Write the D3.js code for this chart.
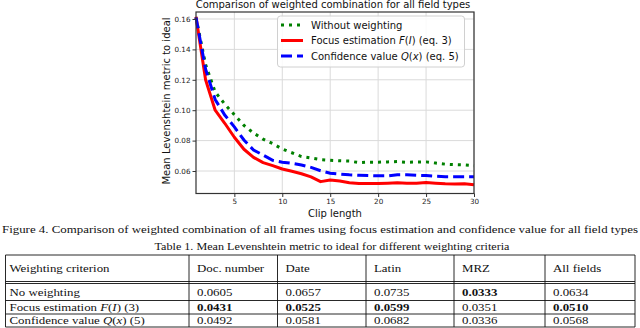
<!DOCTYPE html>
<html>
<head>
<meta charset="utf-8">
<script src="https://cdn.jsdelivr.net/npm/d3@7"></script>
<style>
    body { margin: 0; background: #fff; }
    svg { display: block; }
    .tick text { font-family: "DejaVu Sans", sans-serif; font-size: 7.2px; fill: #222; }
    .axis-label { font-family: "DejaVu Sans", sans-serif; font-size: 10px; fill: #111; }
    .serif { font-family: "Liberation Serif", "Times New Roman", serif; fill: #111; }
</style>
</head>
<body>
<script>
// Chart data
const clipLength = [1, 2, 3, 4, 5, 6, 7, 8, 9, 10, 11, 12, 13, 14, 15, 16, 17, 18, 19, 20, 21, 22, 23, 24, 25, 26, 27, 28, 29, 30];
const withoutWeighting = [0.161, 0.130, 0.112, 0.104, 0.097, 0.090, 0.085, 0.081, 0.078, 0.0745, 0.072, 0.0695, 0.0685, 0.0675, 0.067, 0.0667, 0.0665, 0.0655, 0.0658, 0.0658, 0.066, 0.0662, 0.0657, 0.066, 0.066, 0.0652, 0.0645, 0.0642, 0.064, 0.0635];
const focusEstimation = [0.1615, 0.120, 0.100, 0.0914, 0.0822, 0.0743, 0.069, 0.0655, 0.0635, 0.0613, 0.0598, 0.0582, 0.0561, 0.053, 0.0541, 0.0534, 0.0523, 0.0518, 0.0518, 0.0518, 0.052, 0.0523, 0.052, 0.052, 0.0525, 0.052, 0.0516, 0.0514, 0.0516, 0.0509];
const confidenceValue = [0.161, 0.127, 0.107, 0.0968, 0.089, 0.0804, 0.0738, 0.0705, 0.067, 0.0658, 0.0651, 0.064, 0.0624, 0.0602, 0.0585, 0.058, 0.0575, 0.0572, 0.057, 0.0568, 0.0568, 0.0575, 0.0575, 0.0572, 0.057, 0.0566, 0.0563, 0.0563, 0.0563, 0.0563];
const xTicks = [5, 10, 15, 20, 25, 30];
const yTicks = [0.06, 0.08, 0.10, 0.12, 0.14, 0.16];
const seriesNames = ["Without weighting", "Focus estimation $F$($I$) (eq. 3)", "Confidence value $Q$($x$) (eq. 5)"];

// Table data
const tableHeader = ["Weighting criterion", "Doc. number", "Date", "Latin", "MRZ", "All fields"];
const rowLabels = ["No weighting", "Focus estimation $F$($I$) (3)", "Confidence value $Q$($x$) (5)"];
const docNumber = [0.0605, 0.0431, 0.0492];
const dateField = [0.0657, 0.0525, 0.0581];
const latinField = [0.0735, 0.0599, 0.0682];
const mrzField = [0.0333, 0.0351, 0.0336];
const allFields = [0.0634, 0.0510, 0.0568];

const figureCaption = "Figure 4. Comparison of weighted combination of all frames using focus estimation and confidence value for all field types";
const tableCaption = "Table 1. Mean Levenshtein metric to ideal for different weighting criteria";

const svg = d3.select('body').append('svg')
    .attr('width', 640)
    .attr('height', 328);

svg.append('rect').attr('width', 640).attr('height', 328).attr('fill', '#fff');

// write "text with $math$ parts" as tspans, math parts in italic
function richText(sel, str) {
    str.split('$').forEach((part, i) => {
        if (!part) return;
        const t = sel.append('tspan').text(part);
        if (i % 2 === 1) t.attr('font-style', 'italic');
    });
    return sel;
}

// scale font size so the text spans a given width
function fitWidth(sel, width) {
    const size = parseFloat(sel.attr('font-size'));
    const w = sel.node().getComputedTextLength();
    sel.attr('font-size', size * width / w);
}

// ---------- chart ----------
const plot = { left: 196, right: 474, top: 12, bottom: 193.5 };

const x = d3.scaleLinear().domain([1, 30]).range([plot.left, plot.right]);
const y = d3.scaleLinear().domain([0.0452, 0.1646]).range([plot.bottom, plot.top]);

// grid
const grid = svg.append('g').attr('stroke', '#dadada').attr('stroke-width', 1);
grid.selectAll('.vg').data(xTicks).enter().append('line')
    .attr('x1', d => x(d)).attr('x2', d => x(d))
    .attr('y1', plot.top).attr('y2', plot.bottom);
grid.selectAll('.hg').data(yTicks).enter().append('line')
    .attr('x1', plot.left).attr('x2', plot.right)
    .attr('y1', d => y(d)).attr('y2', d => y(d));

// lines
const line = (vals) => d3.line().x((d, i) => x(clipLength[i])).y(d => y(d))(vals);

svg.append('path').attr('d', line(withoutWeighting))
    .attr('fill', 'none').attr('stroke', '#008000').attr('stroke-width', 3)
    .attr('stroke-dasharray', '3,5');
svg.append('path').attr('d', line(focusEstimation))
    .attr('fill', 'none').attr('stroke', '#ff0000').attr('stroke-width', 3)
    .attr('stroke-linejoin', 'round');
svg.append('path').attr('d', line(confidenceValue))
    .attr('fill', 'none').attr('stroke', '#0000ff').attr('stroke-width', 3)
    .attr('stroke-dasharray', '11,5');

// frame
svg.append('rect')
    .attr('x', plot.left).attr('y', plot.top)
    .attr('width', plot.right - plot.left).attr('height', plot.bottom - plot.top)
    .attr('fill', 'none').attr('stroke', '#333').attr('stroke-width', 1.2);

// axes
svg.append('g')
    .attr('transform', `translate(0,${plot.bottom})`)
    .call(d3.axisBottom(x).tickValues(xTicks).tickSize(3.5).tickPadding(2).tickFormat(d3.format('d')))
    .call(g => g.select('.domain').remove());

svg.append('g')
    .attr('transform', `translate(${plot.left},0)`)
    .call(d3.axisLeft(y).tickValues(yTicks).tickSize(3.5).tickPadding(2).tickFormat(d3.format('.2f')))
    .call(g => g.select('.domain').remove());

svg.selectAll('.tick line').attr('stroke', '#333');

// title and labels
const title = svg.append('text')
    .attr('class', 'axis-label')
    .attr('x', 333).attr('y', 7.5)
    .attr('text-anchor', 'middle')
    .attr('font-size', 10)
    .text('Comparison of weighted combination for all field types');
fitWidth(title, 283);

svg.append('text')
    .attr('class', 'axis-label')
    .attr('x', 335).attr('y', 217)
    .attr('text-anchor', 'middle')
    .text('Clip length');

svg.append('text')
    .attr('class', 'axis-label')
    .attr('transform', 'translate(170,101) rotate(-90)')
    .attr('text-anchor', 'middle')
    .text('Mean Levenshtein metric to ideal');

// legend
const legend = svg.append('g');
legend.append('rect')
    .attr('x', 277.5).attr('y', 16).attr('width', 187).attr('height', 51)
    .attr('rx', 3)
    .attr('fill', '#fff').attr('fill-opacity', 0.85)
    .attr('stroke', '#d0d0d0');

const legendStyles = [
    { color: '#008000', dash: '3,5' },
    { color: '#ff0000', dash: null },
    { color: '#0000ff', dash: '11,5' }
];

seriesNames.forEach((name, i) => {
    const ly = 25 + i * 15.5;
    legend.append('line')
        .attr('x1', 281).attr('x2', 303)
        .attr('y1', ly).attr('y2', ly)
        .attr('stroke', legendStyles[i].color)
        .attr('stroke-width', 3)
        .attr('stroke-dasharray', legendStyles[i].dash);
    const t = legend.append('text')
        .attr('class', 'axis-label')
        .attr('x', 311).attr('y', ly + 3.8)
        .attr('font-size', 10.4);
    richText(t, name);
});

// ---------- captions ----------
// the picture is a bit squashed vertically, so serif text is drawn narrow-high and stretched in x
const xStretch = 1.15;

function serifText(tx, ty, size, anchor) {
    return svg.append('text')
        .attr('class', 'serif')
        .attr('transform', `translate(${tx},${ty}) scale(${xStretch},1)`)
        .attr('text-anchor', anchor)
        .attr('font-size', size);
}

const cap1 = serifText(320, 233, 12, 'middle').text(figureCaption);
fitWidth(cap1, 636 / xStretch);

const cap2 = serifText(332, 250, 12, 'middle').text(tableCaption);
fitWidth(cap2, 355 / xStretch);

// ---------- table ----------
const colEdges = [5.5, 189, 277.5, 366, 454, 545, 635];
const rowEdges = [255, 281.5, 300.5, 314, 327];
const tableCols = [docNumber, dateField, latinField, mrzField, allFields];

const table = svg.append('g').attr('stroke', '#111').attr('stroke-width', 0.9);
// horizontal rules
[rowEdges[0], rowEdges[1], rowEdges[1] + 2, rowEdges[2], rowEdges[3], rowEdges[4]].forEach(yy => {
    table.append('line')
        .attr('x1', colEdges[0]).attr('x2', colEdges[colEdges.length - 1])
        .attr('y1', yy).attr('y2', yy);
});
// vertical rules
colEdges.forEach(xx => {
    table.append('line')
        .attr('x1', xx).attr('x2', xx)
        .attr('y1', rowEdges[0]).attr('y2', rowEdges[4]);
});

const textRows = [tableHeader].concat(rowLabels.map((label, r) =>
    [label].concat(tableCols.map(col => col[r]))
));

// best value in each column is bold
const bestRow = tableCols.map(col => col.indexOf(d3.min(col)));

textRows.forEach((row, r) => {
    const top = r === 0 ? rowEdges[0] : (r === 1 ? rowEdges[1] + 2 : rowEdges[r]);
    const cy = (top + rowEdges[r + 1]) / 2;
    row.forEach((cell, c) => {
        const t = serifText(colEdges[c] + (c === 0 ? 4 : 8), cy + 3.8, 11.2, 'start');
        if (typeof cell === 'number') {
            t.text(cell.toFixed(4));
            if (bestRow[c - 1] === r - 1) t.attr('font-weight', 'bold');
        } else {
            richText(t, cell);
        }
    });
});
</script>
</body>
</html>
